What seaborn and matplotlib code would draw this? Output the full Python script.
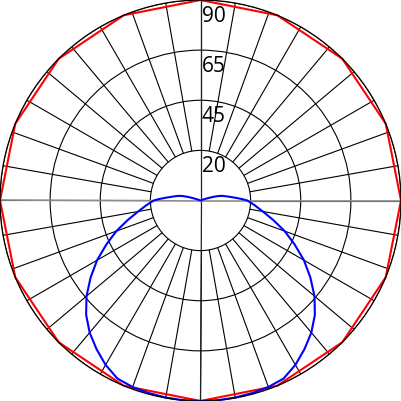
import numpy as np
import pandas as pd
import matplotlib
matplotlib.use("Agg")
import matplotlib.pyplot as plt
import seaborn as sns
from matplotlib.transforms import offset_copy

# ---- data (angles in degrees from nadir, values in radial units) ----
blue_angles = [0, 5, 10, 15, 20, 25, 30, 35, 40, 45, 50, 55, 60, 65, 70, 75, 80, 85,
               90, 92, 94, 96, 98, 100, 102, 104, 106, 108, 110, 113, 180]
blue_values = [90, 90, 89.8, 89.5, 89.1, 88.2, 85.2, 81.4, 77.4, 72.6, 66.8, 60.2, 53.6,
               46.6, 40.2, 33.8, 28.4, 24.4, 21, 18.6, 16.2, 14.2, 12.6, 11.2, 10,
               8.3, 5.8, 3, 1, 0, 0]
red_angles = [0, 22.5, 45, 67.5, 90, 112.5, 135, 157.5, 180, 202.5, 225, 247.5, 270,
              292.5, 315, 337.5, 360]
red_values = [90, 90, 90, 90, 90, 90, 90, 90, 90, 90, 90, 90, 90, 90, 90, 90, 90]
ring_values = [22.5, 45, 67.5, 90]
ring_labels = ["20", "45", "65", "90"]
spoke_angles = list(range(0, 360, 10))

sns.set_theme(style="white")
plt.rcParams["font.family"] = ["Open Sans", "DejaVu Sans"]

fig = plt.figure(figsize=(4.01, 4.01), dpi=100)
ax = fig.add_axes([0, 0, 1, 1], projection="polar")
ax.set_theta_zero_location("S")
ax.set_rlim(0, 90)
ax.set_rticks(ring_values)
ax.set_yticklabels([])
ax.set_xticks([])
ax.xaxis.grid(False)
ax.yaxis.grid(True, color="black", lw=0.8)
ax.spines["polar"].set_color("black")
ax.spines["polar"].set_linewidth(0.9)
ax.set_facecolor("white")

# spokes from the inner ring outward
ax.vlines(np.deg2rad(spoke_angles), ring_values[0], ring_values[-1],
          colors="black", lw=0.8)
# vertical and horizontal axis lines through the centre
ax.vlines(np.deg2rad([0, 180]), 0, ring_values[-1], colors="#222222", lw=0.9)
ax.vlines(np.deg2rad([90, 270]), 0, ring_values[-1], colors="#8c8c8c", lw=1.2)

# blue curve (symmetric half-profile drawn on both sides)
ba = np.array(blue_angles, dtype=float)
bv = np.array(blue_values, dtype=float)
blue_df = pd.DataFrame({
    "theta": np.deg2rad(np.concatenate([ba, 360 - ba[::-1]])),
    "r": np.concatenate([bv, bv[::-1]]),
})
red_df = pd.DataFrame({"theta": np.deg2rad(red_angles), "r": red_values})

sns.lineplot(data=red_df, x="theta", y="r", sort=False, estimator=None,
             color="#ff0000", lw=1.5, ax=ax, clip_on=False)
sns.lineplot(data=blue_df, x="theta", y="r", sort=False, estimator=None,
             color="#0000ff", lw=1.5, ax=ax, clip_on=False)

ax.set_xlabel("")
ax.set_ylabel("")
ax.set_rlim(0, 90)

tr = offset_copy(ax.transData, fig=fig, x=1.0, y=-4.0, units="points")
for rv, lab in zip(ring_values, ring_labels):
    ax.text(np.pi, rv, lab, transform=tr, ha="left", va="top",
            fontsize=15, color="black")

fig.savefig("out.png", dpi=100)
